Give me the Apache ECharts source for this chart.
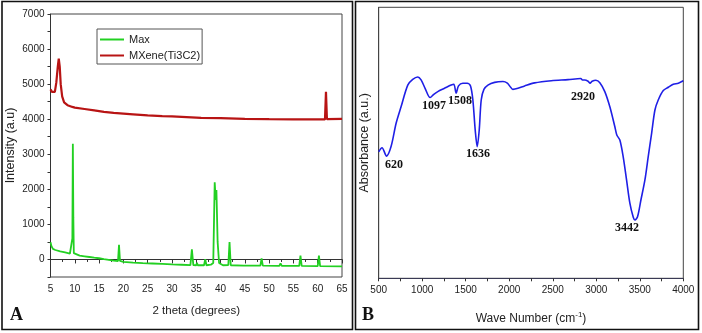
<!DOCTYPE html>
<html>
<head>
<meta charset="utf-8">
<script src="https://cdn.jsdelivr.net/npm/echarts@6/dist/echarts.min.js"></script>
<style>
  html, body { margin: 0; padding: 0; background: #fff; }
  #chart { width: 702px; height: 333px; }
</style>
</head>
<body>
<div id="chart"></div>
<script>
// XRD: MAX phase (green)
const maxTheta = [5.0, 5.2, 5.5, 6.0, 7.0, 8.0, 9.0, 9.4, 9.5, 9.6, 9.7, 9.8, 10.0, 11, 12, 13, 14, 15, 16, 17, 18,
  18.9, 19.1, 19.3, 19.5, 20, 22, 24, 26, 28, 30, 32, 33.8, 34.1, 34.4, 35.0, 35.15, 35.3, 36.6, 36.85, 37.1,
  38.0, 38.5, 38.8, 39.0, 39.15, 39.4, 39.7, 40.5, 41.6, 41.85, 42.1, 44.8, 45.0, 45.2, 48.2, 48.45, 48.7,
  52.1, 52.35, 52.6, 56.2, 56.45, 56.7, 60.0, 60.25, 60.5, 65]
const maxIntensity = [490, 380, 300, 270, 230, 200, 170, 140, 600, 3300, 1200, 180, 140, 110, 90, 70, 50, 35, 10, -10, -30,
  -45, 420, -40, -60, -70, -90, -105, -115, -125, -140, -150, -160, 290, -160, -165, -90, -165, -165, 10, -165,
  -150, -100, 2200, 1700, 1980, 500, -100, -165, -160, 500, -165, -175, -135, -175, -175, 30, -175,
  -185, -110, -185, -185, 110, -185, -190, 110, -190, -195]

// XRD: MXene (red)
const mxTheta = [5.0, 5.3, 5.6, 5.9, 6.2, 6.5, 6.7, 6.9, 7.1, 7.4, 7.8, 8.5, 9.5, 10, 12, 14, 16, 18, 20, 22, 25, 28,
  30, 33, 36, 40, 45, 50, 55, 60, 61.5, 61.7, 61.9, 62.2, 65]
const mxIntensity = [4850, 4780, 4730, 4780, 5050, 5500, 5730, 5500, 5000, 4650, 4480, 4400, 4350, 4330, 4290, 4250,
  4210, 4180, 4160, 4140, 4110, 4090, 4080, 4060, 4040, 4030, 4010, 4000, 3995, 3995, 3995, 4780, 4000, 3990, 4010]

// FTIR (blue)
const waveNumber = [500, 538, 590, 642, 700, 757, 834, 891, 949, 987, 1033, 1091, 1133, 1179, 1256, 1333, 1363, 1390,
  1417, 1467, 1517, 1555, 1582, 1609, 1632, 1655, 1678, 1709, 1755, 1832, 1928, 1978, 2016, 2043, 2100, 2177,
  2292, 2484, 2676, 2822, 2841, 2868, 2906, 2929, 2952, 2995, 3041, 3098, 3156, 3213, 3236, 3271, 3309, 3348,
  3386, 3425, 3444, 3475, 3513, 3559, 3597, 3636, 3674, 3712, 3770, 3828, 3885, 3943, 4000]
const absorbance = [46.7, 48.2, 45.1, 48.6, 57.2, 63.3, 71.3, 73.4, 74.3, 73.2, 70.1, 66.7, 67.9, 68.9, 70.1, 71.3, 71.6, 68.3,
  71.0, 72.0, 72.0, 71.0, 65.8, 54.7, 48.6, 54.7, 65.8, 69.7, 71.3, 72.3, 72.6, 72.0, 70.5, 69.7, 70.1, 71.0,
  72.1, 72.9, 73.3, 73.7, 73.2, 73.2, 72.7, 72.0, 72.7, 73.1, 72.2, 68.9, 63.3, 56.0, 52.9, 51.0, 44.9, 36.3,
  27.7, 22.5, 21.5, 22.8, 28.9, 36.3, 44.9, 53.5, 62.1, 65.8, 69.3, 70.5, 71.6, 72.0, 72.9]

// peak annotations (label, wave number, absorbance at label centre)
const peakLabels = ['620', '1097', '1508', '1636', '2920', '3442']
const peakX = [676, 1135, 1434, 1641, 2847, 3353]
const peakY = [41.8, 63.6, 65.4, 45.9, 66.9, 18.6]

const pairs = (xs, ys) => xs.map((x, i) => [x, ys[i]])

const chart = echarts.init(document.getElementById('chart'))

const axisText = { color: '#222', fontFamily: 'Liberation Sans', fontSize: 10 }
const nameText = { color: '#222', fontFamily: 'Liberation Sans', fontSize: 11.5 }

const option = {
  animation: false,
  backgroundColor: '#fff',
  legend: {
    left: 97,
    top: 29,
    orient: 'vertical',
    data: ['Max', 'MXene(Ti3C2)'],
    itemWidth: 24,
    itemHeight: 2,
    itemGap: 5,
    padding: [5, 2, 3, 3],
    borderColor: '#555',
    borderWidth: 1,
    icon: 'rect',
    textStyle: { color: '#222', fontFamily: 'Liberation Sans', fontSize: 11 },
  },
  grid: [
    { left: 50.5, top: 14, width: 291.5, height: 263, show: true, borderColor: '#444', borderWidth: 1 },
    { left: 378.7, top: 7.3, width: 304.6, height: 271, show: true, borderColor: '#444', borderWidth: 1 },
  ],
  xAxis: [
    {
      type: 'value', gridIndex: 0, min: 5, max: 65, interval: 5,
      name: '2 theta (degrees)', nameLocation: 'middle', nameGap: 28, nameTextStyle: nameText,
      axisLine: { lineStyle: { color: '#333' } },
      axisTick: { length: 4, lineStyle: { color: '#333' } },
      minorTick: { show: true, splitNumber: 2, length: 2.5, lineStyle: { color: '#333' } },
      axisLabel: { ...axisText, margin: 7 },
      splitLine: { show: false },
    },
    {
      type: 'value', gridIndex: 1, min: 500, max: 4000, interval: 500,
      name: 'Wave Number (cm{sup|-1})', nameLocation: 'middle', nameGap: 32,
      nameTextStyle: { ...nameText, fontSize: 12, rich: { sup: { fontFamily: 'Liberation Sans', fontSize: 8, color: '#222', padding: [0, 0, 8, 0] } } },
      axisLine: { lineStyle: { color: '#3a3a55' } },
      axisTick: { length: 3, lineStyle: { color: '#333' } },
      minorTick: { show: true, splitNumber: 2, length: 3, lineStyle: { color: '#333' } },
      axisLabel: { ...axisText, margin: 7, formatter: (v) => String(v) },
      splitLine: { show: false },
    },
  ],
  yAxis: [
    {
      type: 'value', gridIndex: 0, min: -500, max: 7000, interval: 500,
      name: 'Intensity (a.u)', nameLocation: 'middle', nameGap: 33, nameTextStyle: { ...nameText, fontSize: 12.5 },
      axisLine: { show: true, lineStyle: { color: '#333' } },
      axisTick: { show: true, length: 3, lineStyle: { color: '#333' } },
      axisLabel: { ...axisText, margin: 6, formatter: (v) => (v % 1000 === 0 ? String(v) : '') },
      splitLine: { show: false },
    },
    {
      type: 'value', gridIndex: 1, min: 0, max: 100,
      name: 'Absorbance (a.u.)', nameLocation: 'middle', nameGap: 8, nameTextStyle: { ...nameText, fontSize: 12.5 },
      axisLine: { show: true, lineStyle: { color: '#444' } },
      axisTick: { show: false },
      axisLabel: { show: false },
      splitLine: { show: false },
    },
  ],
  series: [
    {
      name: 'Max', type: 'line', xAxisIndex: 0, yAxisIndex: 0,
      data: pairs(maxTheta, maxIntensity),
      showSymbol: false, color: '#22d022',
      lineStyle: { width: 1.8, color: '#22d022' },
    },
    {
      name: 'MXene(Ti3C2)', type: 'line', xAxisIndex: 0, yAxisIndex: 0,
      data: pairs(mxTheta, mxIntensity),
      showSymbol: false, color: '#b81414',
      lineStyle: { width: 2.2, color: '#b81414' },
    },
    {
      name: 'FTIR', type: 'line', xAxisIndex: 1, yAxisIndex: 1,
      data: pairs(waveNumber, absorbance),
      showSymbol: false, smooth: 0.3, color: '#1f1fe6',
      lineStyle: { width: 1.6, color: '#1f1fe6' },
      markPoint: {
        symbol: 'rect', symbolSize: 1,
        itemStyle: { color: 'rgba(0,0,0,0)' },
        label: {
          show: true, position: 'inside', formatter: (p) => p.name,
          color: '#111', fontFamily: 'Liberation Serif', fontWeight: 'bold', fontSize: 12,
        },
        data: peakLabels.map((t, i) => ({ name: t, coord: [peakX[i], peakY[i]] })),
      },
    },
  ],
  graphic: [
    { type: 'rect', shape: { x: 2, y: 1.5, width: 350.5, height: 328 }, style: { fill: 'none', stroke: '#111', lineWidth: 1.6 } },
    { type: 'rect', shape: { x: 355.5, y: 1.5, width: 343, height: 328 }, style: { fill: 'none', stroke: '#111', lineWidth: 1.6 } },
    { type: 'text', left: 10, top: 306, style: { text: 'A', font: 'bold 18px "Liberation Serif"', fill: '#111' } },
    { type: 'text', left: 362, top: 306, style: { text: 'B', font: 'bold 18px "Liberation Serif"', fill: '#111' } },
  ],
}

chart.setOption(option)
</script>
</body>
</html>
